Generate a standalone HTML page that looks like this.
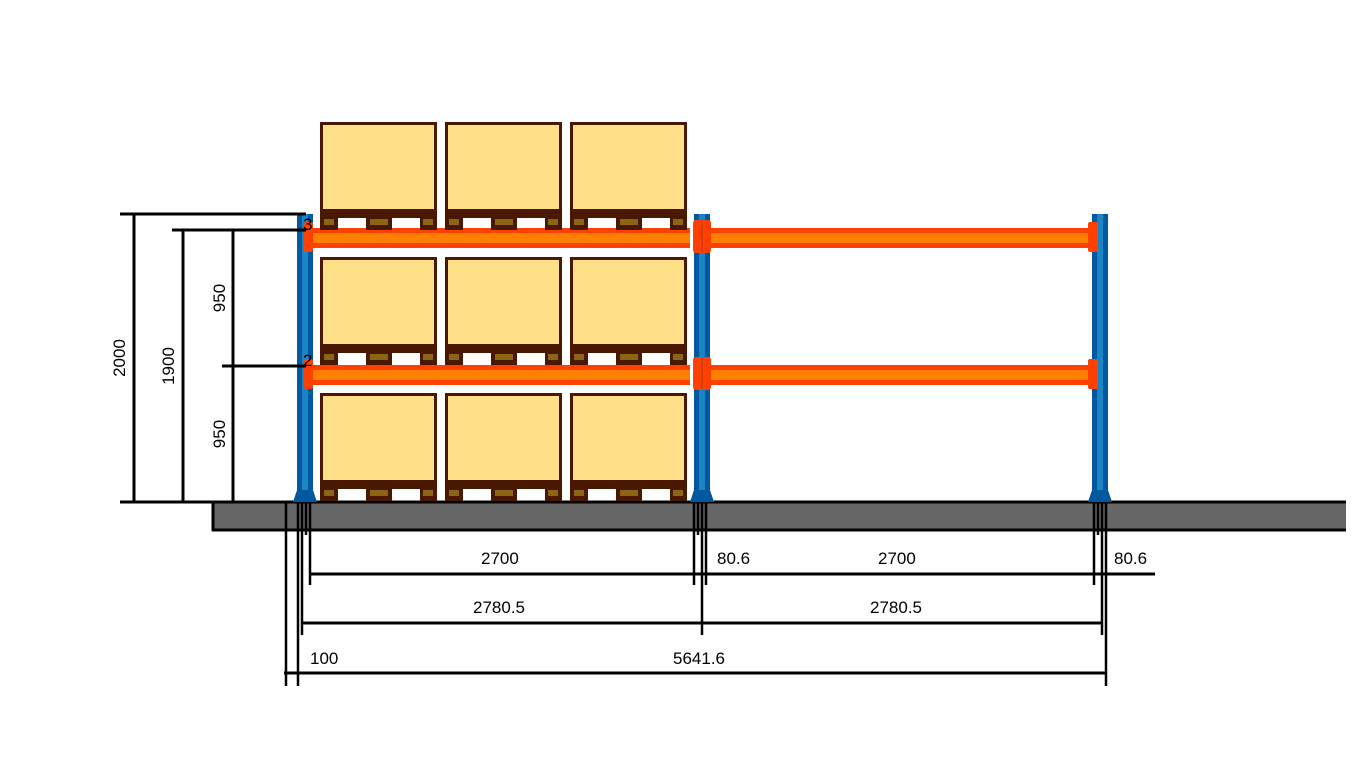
<!DOCTYPE html>
<html><head><meta charset="utf-8"><style>html,body{margin:0;padding:0;background:#fff}svg{display:block}text{font-family:"Liberation Sans",sans-serif;font-size:17px;fill:#000}</style></head><body>
<svg width="1366" height="768" viewBox="0 0 1366 768" xmlns="http://www.w3.org/2000/svg">
<defs>
<g id="up">
<rect x="0" y="0" width="16" height="288" fill="#0058a0"/>
<rect x="5" y="0" width="6" height="288" fill="#1a84c4"/>
<path d="M0 276 L-4 288 L20 288 L16 276Z" fill="#0058a0"/>
</g>
<g id="pal">
<rect x="1.5" y="1.5" width="114" height="88" fill="#ffdf88" stroke="#4a1800" stroke-width="3"/>
<rect x="0" y="87" width="117" height="9" fill="#4a1800"/>
<rect x="0" y="95" width="18" height="13" fill="#4a1800"/>
<rect x="46" y="95" width="26" height="13" fill="#4a1800"/>
<rect x="100" y="95" width="17" height="13" fill="#4a1800"/>
<rect x="4" y="97" width="10" height="6" fill="#8b6414"/>
<rect x="50" y="97" width="18" height="6" fill="#8b6414"/>
<rect x="103" y="97" width="10" height="6" fill="#8b6414"/>
</g>
<g id="beam">
<rect x="0" y="0" width="380" height="20" fill="#ff4000"/>
<rect x="0" y="5" width="380" height="10" fill="#ff8000"/>
</g>
</defs>
<rect x="212" y="501" width="1134" height="30" fill="#666"/>
<line x1="212" y1="502" x2="1346" y2="502" stroke="#000" stroke-width="3"/>
<line x1="212" y1="530" x2="1346" y2="530" stroke="#000" stroke-width="3"/>
<line x1="213" y1="502" x2="213" y2="531" stroke="#000" stroke-width="3"/>
<use href="#up" x="297" y="214"/>
<use href="#up" x="694" y="214"/>
<use href="#up" x="1092" y="214"/>
<use href="#beam" x="310" y="228"/>
<use href="#beam" x="708" y="228"/>
<use href="#beam" x="310" y="365"/>
<use href="#beam" x="708" y="365"/>
<g fill="#ff4000">
<rect x="304" y="222" width="9" height="30" rx="2"/><rect x="693" y="220" width="18" height="33" rx="3"/><rect x="1088" y="222" width="10" height="30" rx="2"/>
<rect x="304" y="359" width="9" height="30" rx="2"/><rect x="693" y="357" width="18" height="33" rx="3"/><rect x="1088" y="359" width="10" height="30" rx="2"/>
</g>
<line x1="702" y1="221" x2="702" y2="252" stroke="#a04020" stroke-width="1"/>
<line x1="702" y1="358" x2="702" y2="389" stroke="#a04020" stroke-width="1"/>
<use href="#pal" x="320" y="122"/><use href="#pal" x="445" y="122"/><use href="#pal" x="570" y="122"/>
<use href="#pal" x="320" y="257"/><use href="#pal" x="445" y="257"/><use href="#pal" x="570" y="257"/>
<use href="#pal" x="320" y="393"/><use href="#pal" x="445" y="393"/><use href="#pal" x="570" y="393"/>
<text x="303" y="230" font-size="16">3</text>
<text x="303" y="366" font-size="16">2</text>
<g stroke="#000" stroke-width="3" fill="none">
<line x1="120" y1="214" x2="306" y2="214"/>
<line x1="172" y1="230" x2="306" y2="230"/>
<line x1="222" y1="366" x2="306" y2="366"/>
<line x1="120" y1="502" x2="240" y2="502"/>
<line x1="134" y1="214" x2="134" y2="502"/>
<line x1="183" y1="230" x2="183" y2="502"/>
<line x1="233" y1="230" x2="233" y2="502"/>
<line x1="310" y1="574" x2="1155" y2="574"/>
<line x1="302" y1="623" x2="1102" y2="623"/>
<line x1="284" y1="673" x2="1107" y2="673"/>
</g>
<g stroke="#000" stroke-width="2.5">
<line x1="286" y1="503" x2="286" y2="686"/>
<line x1="298" y1="503" x2="298" y2="686"/>
<line x1="302" y1="503" x2="302" y2="635"/>
<line x1="306" y1="503" x2="306" y2="535"/>
<line x1="310" y1="503" x2="310" y2="585"/>
<line x1="694" y1="503" x2="694" y2="585"/>
<line x1="698" y1="503" x2="698" y2="535"/>
<line x1="702" y1="503" x2="702" y2="635"/>
<line x1="706" y1="503" x2="706" y2="585"/>
<line x1="1094" y1="503" x2="1094" y2="585"/>
<line x1="1098" y1="503" x2="1098" y2="535"/>
<line x1="1102" y1="503" x2="1102" y2="635"/>
<line x1="1106" y1="503" x2="1106" y2="686"/>
</g>
<text x="481" y="564">2700</text>
<text x="717" y="564">80.6</text>
<text x="878" y="564">2700</text>
<text x="1114" y="564">80.6</text>
<text x="473" y="613">2780.5</text>
<text x="870" y="613">2780.5</text>
<text x="310" y="664">100</text>
<text x="673" y="664">5641.6</text>
<text transform="translate(125,358) rotate(-90)" text-anchor="middle">2000</text>
<text transform="translate(174,366) rotate(-90)" text-anchor="middle">1900</text>
<text transform="translate(225,298) rotate(-90)" text-anchor="middle">950</text>
<text transform="translate(225,434) rotate(-90)" text-anchor="middle">950</text>
</svg>
</body></html>
